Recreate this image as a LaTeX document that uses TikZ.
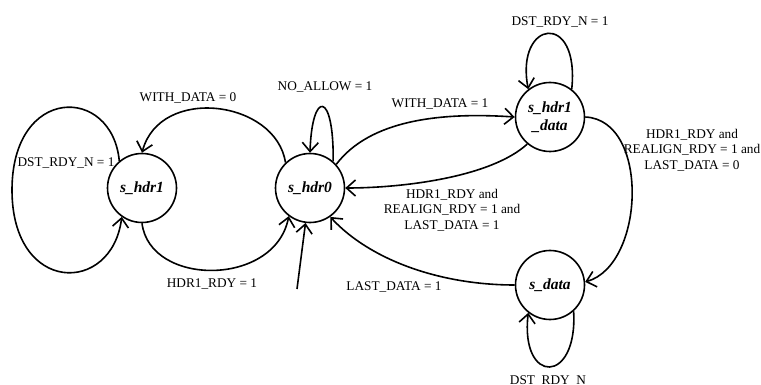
\documentclass[tikz,border=0pt]{standalone}
\usepackage{fontspec}
\setmainfont{Liberation Serif}
\usetikzlibrary{arrows.meta}
\begin{document}
\begin{tikzpicture}[x=1pt,y=-1pt,
  state/.style={circle,draw,line width=1.6pt,minimum size=69pt,inner sep=0pt,
    font=\fontsize{15.5}{18}\selectfont\bfseries\itshape,align=center},
  edge/.style={line width=1.6pt,-{Straight Barb[length=9pt,width=16pt]}},
  lbl/.style={font=\fontsize{13.3}{15.5}\selectfont,align=center,inner sep=0pt}]
\useasboundingbox (0,0) rectangle (761,385);
% states
\node[state] (h1) at (142,188) {s\_hdr1};
\node[state] (h0) at (310,188) {s\_hdr0};
\node[state] (hd) at (550,117) {s\_hdr1\\\_data};
\node[state] (sd) at (550,285) {s\_data};
\coordinate (init) at (297,289);
\coordinate (lw) at (12,190);
% transitions
\draw[edge] (h1.130) .. controls (112,85) and (12,85) .. (lw) .. controls (12,295) and (112,295) .. (h1.235);
\draw[edge] (h0.134) .. controls (276,100) and (160,85) .. (h1.north);
\draw[edge] (h1.south) .. controls (150,287) and (275,287) .. (h0.233);
\draw[edge] (h0.49) .. controls (334,90) and (312,90) .. (h0.north);
\draw[edge] (init) -- (h0);
\draw[edge] (hd.230) .. controls (490,178) and (400,188) .. (h0.east);
\draw[edge] (h0.42) .. controls (370,120) and (440,112) .. (hd.west);
\draw[edge] (hd.52) .. controls (580,10) and (515,20) .. (hd.128);
\draw[edge] (hd.east) .. controls (650,120) and (645,265) .. (sd.5);
\draw[edge] (sd.west) .. controls (440,285) and (370,260) .. (h0.-55);
\draw[edge] (sd.-48) .. controls (578,385) and (520,385) .. (sd.-128);
% labels
\node[lbl] (l1) at (66,163) {DST\_RDY\_N = 1};
\node[lbl] (l2) at (188,98) {WITH\_DATA = 0};
\node[lbl] (l3) at (325,87) {NO\_ALLOW = 1};
\node[lbl] (l4) at (212,284) {HDR1\_RDY = 1};
\node[lbl] (l5) at (440,104) {WITH\_DATA = 1};
\node[lbl] (l6) at (560,22) {DST\_RDY\_N = 1};
\node[lbl] (l7) at (692,150) {HDR1\_RDY and\\REALIGN\_RDY = 1 and\\LAST\_DATA = 0};
\node[lbl] (l8) at (452,210) {HDR1\_RDY and\\REALIGN\_RDY = 1 and\\LAST\_DATA = 1};
\node[lbl] (l9) at (394,287) {LAST\_DATA = 1};
\node[lbl,anchor=base] (l10) at (548,384) {DST\_RDY\_N};
\end{tikzpicture}
\end{document}
